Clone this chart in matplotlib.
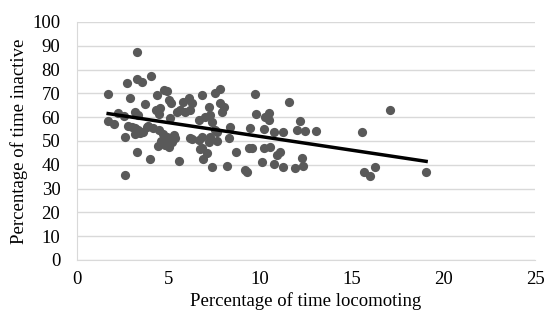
import numpy as np
import matplotlib
matplotlib.use("Agg")
import matplotlib.pyplot as plt

plt.rcParams["font.family"] = ["Liberation Serif", "DejaVu Serif"]

# % time locomoting vs % time inactive
locomoting = [
    3.30, 1.70, 2.75, 3.25, 3.55, 4.03, 2.90, 3.70, 4.35, 4.75,
    4.90, 4.30, 4.55, 4.45, 5.00, 5.15, 1.70, 2.00, 2.25, 2.55,
    3.17, 3.35, 2.80, 3.17, 3.35, 3.62, 3.90, 4.17, 2.62, 3.17,
    3.44, 3.30, 3.99, 2.62, 4.50, 4.70, 4.90, 4.60, 4.80, 5.00,
    5.20, 5.30, 4.40, 5.08, 5.60, 5.81, 6.10, 6.27, 6.17, 5.90,
    5.45, 5.08, 5.36, 6.27, 6.63, 7.18, 7.63, 8.27, 6.72, 7.09,
    6.87, 5.59, 7.36, 8.18, 8.69, 9.18, 9.27, 9.36, 6.81, 7.18,
    7.54, 7.78, 7.81, 8.00, 7.90, 6.63, 7.00, 7.27, 7.36, 8.36,
    7.63, 7.54, 6.81, 6.81, 9.70, 11.55, 9.76, 10.27, 10.49, 10.45,
    12.19, 9.45, 10.18, 10.73, 11.22, 12.00, 12.46, 13.06, 9.54, 10.18,
    10.55, 10.91, 11.09, 10.09, 10.73, 11.22, 11.87, 12.28, 12.31, 15.57,
    17.10, 15.65, 16.00, 16.28, 19.05, 5.26, 6.17, 7.27, 2.99, 3.80,
]
inactive = [
    87.2, 69.7, 74.5, 75.9, 74.6, 77.2, 68.0, 65.5, 69.3, 71.4,
    70.8, 63.0, 63.7, 61.3, 67.2, 65.8, 58.4, 57.1, 61.6, 60.5,
    62.0, 60.8, 56.3, 55.3, 54.6, 53.9, 56.3, 55.3, 51.8, 52.9,
    53.4, 45.3, 42.3, 35.7, 54.5, 53.0, 51.5, 50.0, 48.5, 47.5,
    49.5, 52.5, 48.0, 59.5, 63.0, 66.5, 67.9, 65.8, 63.0, 62.3,
    62.3, 51.1, 51.1, 50.8, 50.4, 49.7, 50.0, 51.1, 46.6, 44.8,
    42.4, 41.6, 38.9, 39.5, 45.5, 37.8, 37.0, 46.9, 69.3, 64.4,
    70.0, 72.0, 65.8, 64.4, 62.3, 58.8, 60.2, 60.9, 58.1, 55.8,
    53.9, 54.6, 51.8, 47.0, 69.7, 66.5, 61.3, 60.2, 61.9, 58.8,
    58.5, 55.3, 54.9, 53.9, 53.9, 54.6, 54.3, 54.3, 46.9, 47.2,
    47.6, 44.1, 45.2, 41.0, 40.2, 39.2, 38.8, 43.0, 39.6, 53.8,
    63.0, 37.0, 35.3, 39.2, 37.0, 51.8, 51.1, 51.8, 55.8, 56.0,
]

x = np.array(locomoting)
y = np.array(inactive)

fig = plt.figure(figsize=(5.5, 3.27), dpi=100)
ax = fig.add_axes([0.14, 0.205, 0.833, 0.728])

ax.scatter(x, y, s=44, color="#595959", zorder=3, linewidths=0)

# linear trend line (least squares, like the spreadsheet's)
slope, icpt = np.polyfit(x, y, 1)
xl = np.array([x.min(), x.max()])
ax.plot(xl, slope * xl + icpt, color="black", lw=2.5, zorder=4)

ax.set_xlim(0, 25)
ax.set_ylim(0, 100)
ax.set_xticks(np.arange(0, 26, 5))
ax.set_yticks(np.arange(0, 101, 10))
ax.yaxis.grid(True, color="#d9d9d9", lw=1)
ax.set_axisbelow(True)
ax.tick_params(length=0, labelsize=13.5)
ax.tick_params(axis="y", pad=12)
ax.tick_params(axis="x", pad=8)

for s in ["top", "right"]:
    ax.spines[s].set_visible(False)
for s in ["left", "bottom"]:
    ax.spines[s].set_color("#d9d9d9")

ax.set_xlabel("Percentage of time locomoting", fontsize=13.5, labelpad=3)
ax.set_ylabel("Percentage of time inactive", fontsize=13.5, labelpad=3)

fig.savefig("out.png", dpi=100)
